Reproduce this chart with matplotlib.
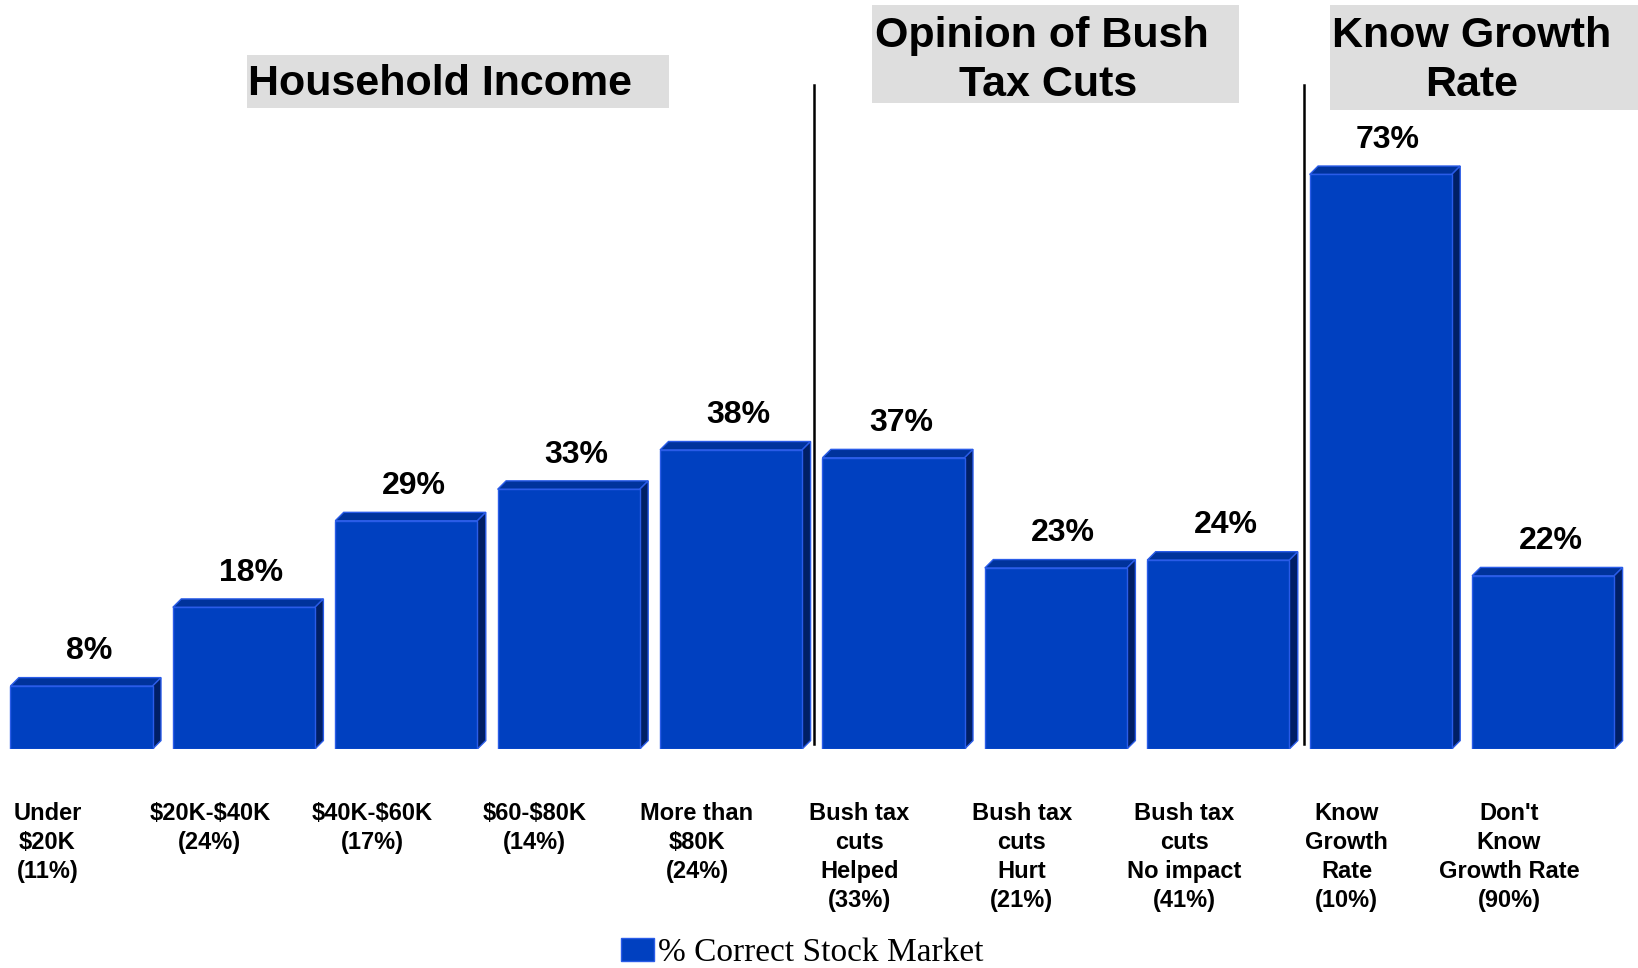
import matplotlib
matplotlib.use("Agg")
import matplotlib.pyplot as plt
from matplotlib.patches import Polygon, Rectangle
from matplotlib.lines import Line2D

categories = [
    "Under\n$20K\n(11%)",
    "$20K-$40K\n(24%)",
    "$40K-$60K\n(17%)",
    "$60-$80K\n(14%)",
    "More than\n$80K\n(24%)",
    "Bush tax\ncuts\nHelped\n(33%)",
    "Bush tax\ncuts\nHurt\n(21%)",
    "Bush tax\ncuts\nNo impact\n(41%)",
    "Know\nGrowth\nRate\n(10%)",
    "Don't\nKnow\nGrowth Rate\n(90%)",
]
values = [8, 18, 29, 33, 38, 37, 23, 24, 73, 22]
value_labels = ["8%", "18%", "29%", "33%", "38%", "37%", "23%", "24%", "73%", "22%"]
series_name = "% Correct Stock Market"
group_titles = ["Household Income", "Opinion of Bush \nTax Cuts", "Know Growth\nRate"]

W, H = 1638, 968
fig = plt.figure(figsize=(W / 100, H / 100), dpi=100)
fig.patch.set_facecolor("white")

SANS = ["Liberation Sans", "DejaVu Sans"]
SERIF = ["Liberation Serif", "DejaVu Serif"]

ax = fig.add_axes([0.3 / W, 219 / H, 1624 / W, 669 / H])
ax.set_xlim(-0.5, 9.5)
ax.set_ylim(0, 85)
ax.set_axis_off()

front = "#0040C0"
top_c = "#00339C"
side_c = "#001F66"
edge = "#2A5CE8"
bw = 0.875
dx, dy = 0.052, 1.07

xs = list(range(len(values)))
bars = ax.bar(xs, values, width=bw, color=front, edgecolor=edge, linewidth=1.0,
              label=series_name, zorder=3)
for x, v in zip(xs, values):
    l, r = x - bw / 2, x + bw / 2
    ax.add_patch(Polygon([(l, v), (r, v), (r + dx, v + dy), (l + dx, v + dy)],
                         closed=True, facecolor=top_c, edgecolor=edge, linewidth=1.0, zorder=2))
    ax.add_patch(Polygon([(r, 0), (r + dx, dy), (r + dx, v + dy), (r, v)],
                         closed=True, facecolor=side_c, edgecolor=edge, linewidth=1.0, zorder=2))

for x, v, t in zip(xs, values, value_labels):
    ax.text(x + 0.045, v + 4.4, t, ha="center", va="center", fontsize=23,
            fontweight="bold", family=SANS, color="black", parse_math=False)

for x, c in zip(xs, categories):
    ax.text(x - 0.21, -6.7, c, ha="center", va="top", fontsize=17, fontweight="bold",
            family=SANS, linespacing=1.33, multialignment="center", color="black",
            parse_math=False)


def fx(px):
    return px / W


def fy(py):
    return 1 - py / H


boxes = [(247, 55, 669, 108), (872, 5, 1239, 103), (1330, 5, 1638, 110)]
for (x0, y0, x1, y1) in boxes:
    fig.patches.append(Rectangle((fx(x0), fy(y1)), fx(x1) - fx(x0), fy(y0) - fy(y1),
                                 transform=fig.transFigure, facecolor="#DEDEDE",
                                 edgecolor="none", zorder=0))

fig.text(fx(248), fy(84), group_titles[0], ha="left", va="center", fontsize=31,
         fontweight="bold", family=SANS)
fig.text(fx(1048), fy(60.5), group_titles[1], ha="center", va="center", fontsize=31,
         fontweight="bold", family=SANS, linespacing=1.32, multialignment="center")
fig.text(fx(1472), fy(60.5), group_titles[2], ha="center", va="center", fontsize=31,
         fontweight="bold", family=SANS, linespacing=1.32, multialignment="center")

for lx in (813.5, 1304):
    fig.lines.append(Line2D([fx(lx), fx(lx)], [fy(85), fy(744)], transform=fig.transFigure,
                            color="black", linewidth=1.8))

leg = fig.legend(handles=[bars], labels=[series_name], loc="center",
                 bbox_to_anchor=(802 / W, fy(953)), frameon=False,
                 prop={"family": SERIF, "size": 24}, handlelength=1.0,
                 handleheight=0.7, handletextpad=0.1, borderpad=0, borderaxespad=0)

fig.savefig("out.png", dpi=100, facecolor="white")
